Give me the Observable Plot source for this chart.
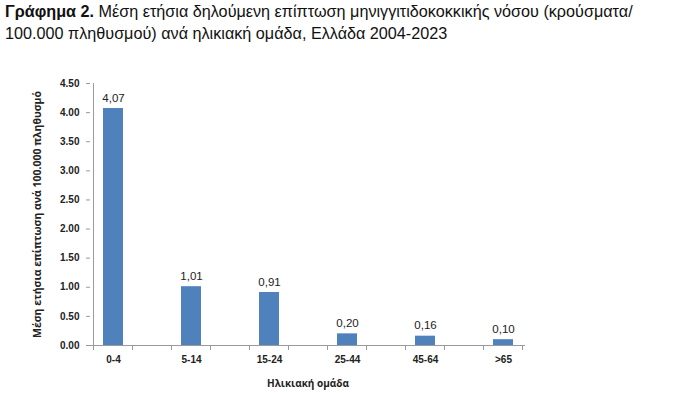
<!DOCTYPE html>
<html>
<head>
<meta charset="utf-8">
<script src="https://cdn.jsdelivr.net/npm/d3@7"></script>
<script src="https://cdn.jsdelivr.net/npm/@observablehq/plot@0.6"></script>
<style>
  html, body { margin: 0; padding: 0; background: #fff; }
  #title { font-family: "Liberation Sans", Arial, sans-serif; font-size: 16.2px; line-height: 22px; color: #111; padding: 0 0 0 5px; height: 50px; box-sizing: border-box; white-space: nowrap; }
  #chart svg { display: block; }
</style>
</head>
<body>
<div id="title"><b>Γράφημα 2.</b> Μέση ετήσια δηλούμενη επίπτωση μηνιγγιτιδοκοκκικής νόσου (κρούσματα/<br>100.000 πληθυσμού) ανά ηλικιακή ομάδα, Ελλάδα 2004-2023</div>
<div id="chart"></div>
<script>
const categories = ["0-4", "5-14", "15-24", "25-44", "45-64", ">65"];
const values = [4.07, 1.01, 0.91, 0.20, 0.16, 0.10];
const yTicks = [0, 0.5, 1, 1.5, 2, 2.5, 3, 3.5, 4, 4.5];

const data = categories.map((c, i) => ({category: c, value: values[i]}));
// Excel-style axis: empty slots between categories
const domain = [];
categories.forEach((c, i) => { domain.push(c); if (i < categories.length - 1) domain.push("__gap" + i); });

const font = "'Liberation Sans', Arial, sans-serif";
const labelFont = "'Open Sans', 'Liberation Sans', sans-serif";
const axisColor = "#9a9a9a";

const plot = Plot.plot({
  width: 686,
  height: 343,
  marginTop: 33,
  marginBottom: 48,
  marginLeft: 90,
  marginRight: 161,
  style: {fontFamily: font, color: "#222", background: "#fff"},
  x: {type: "band", domain, paddingInner: 0.5, paddingOuter: 0.25},
  y: {domain: [0, 4.5]},
  marks: [
    Plot.barY(data, {x: "category", y: "value", fill: "#4F81BD"}),
    Plot.ruleY([0], {stroke: axisColor, strokeWidth: 1}),
    Plot.text(data, {x: "category", y: "value", text: d => d.value.toFixed(2).replace(".", ","), dy: -7, lineAnchor: "bottom", fontSize: 11.5, fill: "#222"}),
    Plot.axisY({ticks: yTicks, tickFormat: d => d.toFixed(2), tickSize: 4, tickPadding: 7, fontSize: 10, fontWeight: "bold", stroke: axisColor, label: null}),
    Plot.axisY({ticks: [], label: "Μέση ετήσια επίπτωση ανά 100.000 πληθυσμό", labelAnchor: "center", labelArrow: "none", labelOffset: 57, fontSize: 10.5, fontWeight: "bold", fontFamily: labelFont}),
    Plot.axisX({tickSize: 0, tickPadding: 10, fontSize: 10, fontWeight: "bold", tickFormat: d => d.startsWith("__gap") ? "" : d, label: null}),
    Plot.axisX({ticks: [], label: "Ηλικιακή ομάδα", labelAnchor: "center", labelArrow: "none", labelOffset: 41, fontSize: 10, fontWeight: "bold", fontFamily: labelFont})
  ]
});

// Excel-like axis lines and category boundary tick marks, positioned with the plot's own scales
const xs = plot.scale("x");
const ys = plot.scale("y");
const svg = d3.select(plot);
const g = svg.append("g").attr("stroke", axisColor).attr("stroke-width", 1);
const y0 = ys.apply(0);
const off = (xs.step - xs.bandwidth) / 2;
const bounds = xs.domain.map(d => xs.apply(d) - off);
bounds.push(xs.apply(xs.domain[xs.domain.length - 1]) + xs.bandwidth + off);
bounds.forEach(b => g.append("line").attr("x1", b).attr("x2", b).attr("y1", y0).attr("y2", y0 + 5));
g.append("line").attr("x1", bounds[0]).attr("x2", bounds[0]).attr("y1", ys.apply(4.5)).attr("y2", y0);

document.getElementById("chart").appendChild(plot);
</script>
</body>
</html>
